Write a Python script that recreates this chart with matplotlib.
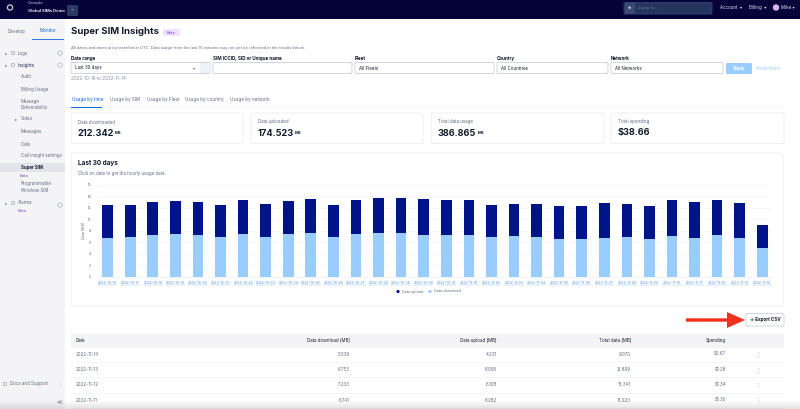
import matplotlib
matplotlib.use("Agg")
import matplotlib.pyplot as plt
from matplotlib.patches import Rectangle, FancyBboxPatch, Circle, Polygon

plt.rcParams['font.family'] = ['Inter', 'DejaVu Sans']

dates = ["2022-10-16","2022-10-17","2022-10-18","2022-10-19","2022-10-20","2022-10-21","2022-10-22","2022-10-23",
         "2022-10-24","2022-10-25","2022-10-26","2022-10-27","2022-10-28","2022-10-29","2022-10-30","2022-10-31",
         "2022-11-01","2022-11-02","2022-11-03","2022-11-04","2022-11-05","2022-11-06","2022-11-07","2022-11-08",
         "2022-11-09","2022-11-10","2022-11-11","2022-11-12","2022-11-13","2022-11-14"]
download = [6.76,6.88,7.34,7.46,7.34,6.88,7.51,6.94,7.46,7.69,6.88,7.46,7.69,7.69,7.28,
            7.23,7.28,6.94,7.05,6.99,6.65,6.65,6.76,6.99,6.53,7.17,6.741,7.233,6.753,5.039]
upload = [5.67,5.61,5.72,5.78,5.61,5.61,5.78,5.72,5.78,5.84,5.66,5.83,6.07,5.95,6.19,
          6.06,6.07,5.55,5.67,5.73,5.72,5.60,6.01,5.73,5.78,6.12,6.282,6.108,6.056,4.031]
y_ticks = [0,2,4,6,8,10,12,14,16]

table_dates = ["2022-11-14","2022-11-13","2022-11-12","2022-11-11"]
table_down = ["5.039","6.753","7.233","6.741"]
table_up = ["4.031","6.056","6.108","6.282"]
table_total = ["9.070","12.809","13.341","13.023"]
table_spend = ["$0.67","$1.28","$1.34","$1.30"]
cards = [("Data downloaded","212.342"," MB"),("Data uploaded","174.523"," MB"),
         ("Total data usage","386.865"," MB"),("Total spending","$38.66","")]
INK = "#121c2d"; GREY = "#606b85"; LINE = "#e1e3ea"; BLUE = "#0263e0"; PURPLE = "#7d3fd0"
NAVY = "#001489"; SKY = "#99cdff"

W, H = 800, 409
fig = plt.figure(figsize=(W/100, H/100), dpi=100, facecolor="white")
ui = fig.add_axes([0, 0, 1, 1], zorder=0)
ui.set_xlim(0, W); ui.set_ylim(H, 0); ui.axis("off")

def rect(x0, y0, x1, y1, fc="white", ec="none", lw=0.6, **k):
    ui.add_patch(Rectangle((x0, y0), x1-x0, y1-y0, fc=fc, ec=ec, lw=lw, **k))
def rrect(x0, y0, x1, y1, fc="white", ec=LINE, lw=0.6, r=1.2, **k):
    ui.add_patch(FancyBboxPatch((x0+r, y0+r), x1-x0-2*r, y1-y0-2*r,
                 boxstyle=f"round,pad={r},rounding_size={r}", fc=fc, ec=ec, lw=lw, **k))
def txt(x, y, s, size=3.3, color=INK, weight="normal", ha="left", **k):
    return ui.text(x, y, s, fontsize=size, color=color, fontweight=weight, ha=ha, va="center", **k)

# top bar
rect(0, 0, W, 18.5, fc="#06033a")
ui.add_patch(Circle((10, 7.5), 2.6, fc="none", ec="#c8cbd6", lw=0.9))
txt(28, 3, "Console", 2.9, "#d5d7e0")
txt(28, 10.5, "Global SIMs Demo", 3.0, "#e8e9ef", "bold")
rrect(67, 5, 78, 16, fc="#2b3a63", ec="none")
txt(72.5, 10.5, "⌃", 3, "white", ha="center")
rrect(624, 2.5, 712, 14, fc="#25345f", ec="#33456f")
rect(624.5, 3, 635, 13.5, fc="#3a4a75")
txt(629.5, 8, "●", 2.5, "#c8cbd6", ha="center")
txt(638, 8, "Jump to...", 3, "#6f7c9c")
txt(720.5, 7.5, "Account  ▾", 3.2, "#e0e2ea")
txt(749, 7.5, "Billing  ▾", 3.2, "#e0e2ea")
ui.add_patch(Circle((776, 7.5), 3.2, fc="#d8b4f0", ec="none"))
txt(781, 7.5, "Mike ▾", 3.2, "#e0e2ea")

# sidebar
rect(0, 18.5, 65, H, fc="#f4f4f6")
txt(17, 31, "Develop", 3.3, GREY, ha="center")
txt(48, 31, "Monitor", 3.3, BLUE, ha="center")
ui.plot([32, 63], [38.5, 38.5], color=BLUE, lw=0.6)
rect(0, 163, 65, 172, fc="#e3e4ea")
items = [(18,53,"Logs","normal",GREY),(18,65,"Insights","bold",GREY),(21,77,"Audit","normal",GREY),
         (21,89,"Billing Usage","normal",GREY),(21,101,"Message","normal",GREY),(21,108,"Deliverability","normal",GREY),
         (21,119,"Video","normal",GREY),(21,132,"Messages","normal",GREY),(21,144,"Calls","normal",GREY),
         (21,156,"Call insight settings","normal",GREY),(21,167.5,"Super SIM","bold",INK),
         (21,184,"Programmable","normal",GREY),(21,191,"Wireless SIM","normal",GREY),(18,203,"Alarms","normal",GREY),
         (10,384,"Docs and Support","normal",GREY)]
for x, y, s, w, c in items:
    txt(x, y, s, 3.2, c, w)
for x, y in [(20,176),(18,211)]:
    txt(x, y, "Beta", 3, PURPLE)
for x, y in [(6,53),(6,65),(16,119),(6,203)]:
    txt(x, y, "▸", 3, GREY, ha="center")
for x, y in [(13,53),(13,65),(13,203),(5,384)]:
    ui.add_patch(Circle((x, y), 1.7, fc="none", ec="#8891aa", lw=0.4))
for y in [53,65,205]:
    ui.add_patch(Circle((60, y), 2.2, fc="none", ec="#a0a6b8", lw=0.4))
txt(59.5, 402.5, "≪", 4, GREY, ha="center")
txt(60, 384, "⋮", 4, "#a0a6b8", ha="center")

# header
txt(71, 31, "Super SIM Insights", 6.9, INK, "bold")
rrect(163, 29, 180, 36, fc="#eee3fa", ec="none")
txt(167, 32.5, "Beta", 2.9, PURPLE)
txt(71, 48, "All dates and times are presented in UTC. Data usage from the last 15 minutes may not yet be reflected in the results below.", 2.9, GREY)

# filters
labels = [(71,"Date range"),(213,"SIM ICCID, SID or Unique name"),(355,"Fleet"),(497,"Country"),(611,"Network")]
for x, s in labels:
    txt(x, 58.5, s, 3.3, INK, "bold")
boxes = [(71,210,"Last 30 days"),(213,352,""),(355,494,"All Fleets"),(497,608,"All Countries"),(611,723,"All Networks")]
for x0, x1, s in boxes:
    rrect(x0, 62.5, x1, 73.5, ec="#cacdd8")
    txt(x0+4, 68, s, 3.2, INK)
txt(194, 68, "▾", 3, GREY, ha="center")
rect(200, 63, 209.5, 73, fc="#eef2fa")
txt(71, 79, "2022-10-16 to 2022-11-14", 3.3, "#8891aa")
rrect(726, 63, 752, 74, fc="#99ccff", ec="none")
txt(739, 68.5, "Apply", 3.2, "white", "bold", ha="center")
txt(756, 68, "Reset filters", 3.1, "#99ccff")

# tabs
for x, s, c in [(72,"Usage by time",BLUE),(110,"Usage by SIM",GREY),(147,"Usage by Fleet",GREY),
                (185,"Usage by country",GREY),(230,"Usage by network",GREY)]:
    txt(x, 99, s, 3.3, c)
ui.plot([71, 784], [106.5, 106.5], color="#eceef2", lw=0.5)
ui.plot([71, 101], [106.5, 106.5], color=BLUE, lw=0.7)

# stat cards
for (x0, x1), (lab, val, unit) in zip([(71,243),(251,423),(431.5,604),(611,784)], cards):
    rrect(x0, 113, x1, 143.5, ec="#eceef2")
    txt(x0+6.5, 122, lab, 3.2, GREY)
    t = txt(x0+6.5, 133, val, 6.6, INK, "bold")
    if unit:
        fig.canvas.draw()
        bb = t.get_window_extent()
        txt(bb.x1+1, 133.5, unit.strip(), 3, INK, "bold")

# chart card
rrect(71, 153, 783, 306, ec="#eceef2")
txt(78, 163, "Last 30 days", 4.6, INK, "bold")
txt(78, 173, "Click on date to get the hourly usage data.", 3.1, GREY)
txt(84, 230.5, "Data (MB)", 2.6, GREY, ha="center", rotation=90)

ax = fig.add_axes([97/W, 1-277/H, (772-97)/W, (277-184.7)/H], zorder=1)
ax.patch.set_alpha(0)
xs = list(range(len(dates)))
ax.bar(xs, download, width=0.474, color=SKY, zorder=3, label="Data download")
ax.bar(xs, upload, bottom=download, width=0.474, color=NAVY, zorder=3, label="Data upload")
ax.set_xlim(-0.474, 29.43); ax.set_ylim(0, 16)
ax.set_yticks(y_ticks)
ax.set_xticks(xs, dates)
ax.grid(axis="y", color="#f3f4f6", lw=0.5, zorder=0)
for s in ax.spines.values():
    s.set_visible(False)
ax.spines["bottom"].set_visible(True); ax.spines["bottom"].set_color("#e6e8ee"); ax.spines["bottom"].set_linewidth(0.4)
ax.tick_params(axis="y", length=0, labelsize=2.6, labelcolor=GREY, pad=4)
ax.tick_params(axis="x", length=0, labelsize=2.55, labelcolor="#4a8fe0", pad=3.2)
tr = ax.get_xaxis_transform()
for x in xs:
    ax.plot([x-0.43, x+0.43], [-0.087, -0.087], transform=tr, color="#7fb2ec", lw=0.25, clip_on=False)

# legend
ui.add_patch(Circle((398, 291.5), 1.6, fc=NAVY, ec="none"))
txt(402, 291.5, "Data upload", 2.7, GREY)
ui.add_patch(Circle((430, 291.5), 1.6, fc=SKY, ec="none"))
txt(434, 291.5, "Data download", 2.7, GREY)

# export + arrow
rrect(746, 313.5, 784, 326, ec="#cacdd8")
txt(765.5, 320, "↓ Export CSV", 3.3, INK, "bold", ha="center")
ui.add_patch(Polygon([(686,318.3),(727,318.3),(727,312),(745,320),(727,328),(727,321.7),(686,321.7)], fc="#f4301c", ec="none"))

# table
rect(71, 333.5, 784, 348, fc="#f4f4f6")
for x, s, ha in [(76,"Date","left"),(350,"Data download (MB)","right"),(497,"Data upload (MB)","right"),
                 (631,"Total data (MB)","right"),(726,"Spending","right")]:
    txt(x, 340.5, s, 3.2, INK, ha=ha)
row_y = [354, 369.5, 385, 400]
for i, y in enumerate(row_y):
    txt(76, y, table_dates[i], 3.2, GREY)
    txt(350, y, table_down[i], 3.2, GREY, ha="right")
    txt(497, y, table_up[i], 3.2, GREY, ha="right")
    txt(631, y, table_total[i], 3.2, GREY, ha="right")
    txt(726, y, table_spend[i], 3.2, GREY, ha="right")
    txt(758, y, "⋮", 4.2, "#8891aa", ha="center")
    ui.plot([71, 784], [y+7.7, y+7.7], color="#eceef2", lw=0.4)

# bottom fade
for k in range(8):
    rect(0, 401+k, W, 402+k, fc="#8a8a8a", alpha=0.03*(k+1), zorder=5)

fig.savefig("out.png", dpi=100, facecolor="white")
